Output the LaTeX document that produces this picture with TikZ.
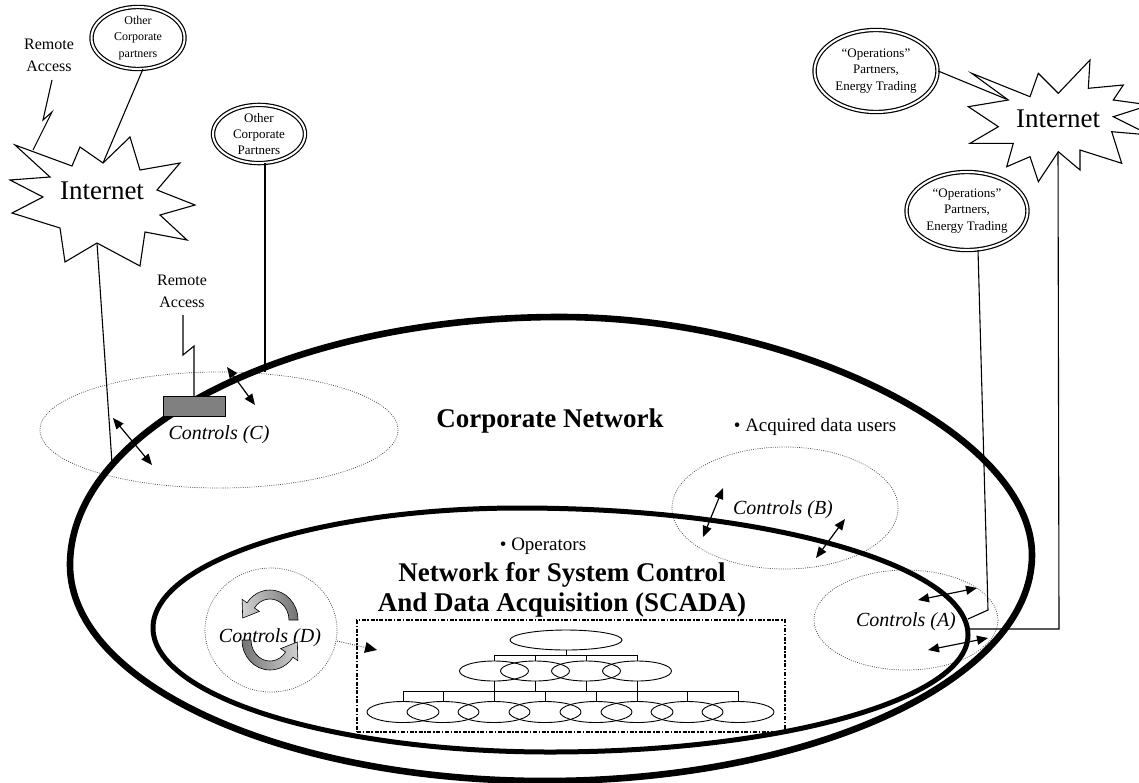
\documentclass[tikz,border=0pt]{standalone}
\usepackage{fontspec}
\setmainfont{Liberation Serif}
\usetikzlibrary{arrows.meta,calc,shapes.geometric}
\newcommand\myfs[2]{\fontsize{#1}{#2}\selectfont}
\begin{document}
\begin{tikzpicture}[x=1pt,y=-1pt,
  every node/.style={inner sep=0pt},
  outerring/.style={line width=6.6pt},
  innerring/.style={line width=5pt},
  thinline/.style={line width=1.1pt},
  ctrlzone/.style={draw=black!70, line width=0.7pt, dash pattern=on 0.9pt off 1.3pt},
  partner/.style={draw, ellipse, fill=white, line width=1.2pt, double=white, double distance=2pt, align=center},
  darrow/.style={line width=1.2pt, {Triangle[length=11pt,width=9pt]}-{Triangle[length=11pt,width=9pt]}},
  burst/.style={draw, fill=white, line width=1.1pt, line join=miter},
  ctrltext/.style={font=\myfs{20}{24}\itshape},
  titletext/.style={font=\myfs{27}{30}\bfseries, align=center},
  bullettext/.style={font=\myfs{19}{22}},
  treeell/.style={draw, line width=0.9pt},
  treeline/.style={line width=0.9pt},
  cyclearrow/.style={draw=black, line width=0.6pt, line join=miter}
]
\useasboundingbox (0,0) rectangle (1139,782);

% control zones (dotted)
\draw[ctrlzone] (219,430) ellipse [x radius=179, y radius=58];
\draw[ctrlzone] (785,508) ellipse [x radius=113, y radius=61];
\draw[ctrlzone] (906,620) ellipse [x radius=92, y radius=50];
\draw[ctrlzone] (271,630) ellipse [x radius=66, y radius=62];

% corporate network (outer ring)
\coordinate (oR) at (1032,555);
\coordinate (oT) at (560,317);
\coordinate (oL) at (70,565);
\coordinate (oB) at (545,781);
\draw[outerring] (oR) .. controls (1032,436) and (796,317) .. (oT)
  .. controls (290.5,317) and (70,428.6) .. (oL)
  .. controls (70,683.8) and (283.8,781) .. (oB)
  .. controls (812.9,781) and (1032,679.3) .. (oR) -- cycle;

% SCADA network (inner ring)
\coordinate (iR) at (968,635);
\coordinate (iT) at (520,508);
\coordinate (iL) at (153,628);
\coordinate (iB) at (550,752);
\draw[innerring] (iR) .. controls (968,565.2) and (766.4,508) .. (iT)
  .. controls (318,508) and (153,562) .. (iL)
  .. controls (153,696.2) and (331.6,752) .. (iB)
  .. controls (779.9,752) and (968,699.4) .. (iR) -- cycle;

% named end points
\coordinate (ra1top) at (52,80);
\coordinate (ra1end) at (33,150);
\coordinate (ra2top) at (183,315);
\coordinate (ra2end) at (194,396);
\coordinate (p2foot) at (265,372);
\coordinate (inetL) at (97,243);
\coordinate (inetLfoot) at (112,463);
\coordinate (inetR) at (1058,150);
\coordinate (inetRbend) at (1059,629);
\coordinate (inetRfoot) at (969,629);
\coordinate (p4bend) at (988,610);
\coordinate (p4foot) at (968,619);
\coordinate (p3end) at (1006,99);
\coordinate (p1foot) at (143,69);
\coordinate (p2top) at (265,163);
\coordinate (p4top) at (978,250);

% partner ellipses
\node[partner, minimum width=93, minimum height=60, font=\myfs{12}{16.5}] (p1) at (138,38) {Other\\Corporate\\partners};
\node[partner, minimum width=92, minimum height=58, font=\myfs{13}{16}] (p2) at (259,134) {Other\\Corporate\\Partners};
\node[partner, minimum width=123, minimum height=82, font=\myfs{13}{16.5}] (p3) at (876,71) {“Operations”\\Partners,\\Energy Trading};
\node[partner, minimum width=121, minimum height=78, font=\myfs{13}{16.5}] (p4) at (967,211) {“Operations”\\Partners,\\Energy Trading};

% thin connectors
\draw[thinline] (ra1top) -- (43,120) -- (52,112) -- (ra1end);
\draw[thinline] (p1foot) -- (103,163);
\draw[thinline] (inetL) -- (inetLfoot);
\draw[thinline] (p2top) -- (p2foot);
\draw[thinline] (ra2top) -- (183,355) -- (194,346) -- (ra2end);
\draw[thinline] (p3.east) -- (p3end);
\draw[thinline] (inetR) -- (inetRbend) -- (inetRfoot);
\draw[thinline] (p4top) -- (p4bend) -- (p4foot);

% Internet bursts
\draw[burst] (15,145) -- (72,166) -- (80,147) -- (103,163) -- (130,137) -- (140,170)
 -- (180,163) -- (157,190) -- (195,205) -- (160,215) -- (187,240) -- (145,232)
 -- (140,266) -- (97,243) -- (65,262) -- (60,228) -- (12,213) -- (43,197)
 -- (10,180) -- (50,177) -- cycle;
\node[font=\myfs{27}{30}] (inet1) at (102,191) {Internet};

\draw[burst] (971.7,73.3) -- (1030,96.7) -- (1038.3,73.3) -- (1058.3,93.3) -- (1090,60)
 -- (1088.3,88.3) -- (1123.3,85) -- (1113.3,100) -- (1150,105) -- (1113.3,116.7)
 -- (1150,135) -- (1111.7,131.7) -- (1121.7,163.3) -- (1080,150) -- (1080,170)
 -- (1058.3,151.7) -- (1038.3,181.7) -- (1030,156.7) -- (1006.7,166.7)
 -- (1013.3,143.3) -- (970,143.3) -- (998.3,126.7) -- (968.3,106.7) -- (1008.3,100) -- cycle;
\node[font=\myfs{27}{30}] (inet2) at (1058,119) {Internet};

% remote access labels
\node[font=\myfs{16}{22}, align=center] (ra1) at (49,55) {Remote\\Access};
\node[font=\myfs{16}{22}, align=center] (ra2) at (182,291) {Remote\\Access};

% remote access box
\node[draw, fill=black!50, line width=1pt, minimum width=62, minimum height=20] (rbox) at (194,406) {};

% main texts
\node[titletext] (corp) at (550,421) {Corporate Network};
\node[bullettext] (acq) at (815,427) {• Acquired data users};
\node[bullettext] (oper) at (543,546) {• Operators};
\node[titletext] (scada) at (562,590) {Network for System Control\\And Data Acquisition (SCADA)};

\node[ctrltext] (cC) at (219,435) {Controls (C)};
\node[ctrltext] (cB) at (783,510) {Controls (B)};
\node[ctrltext] (cA) at (906,622) {Controls (A)};
\node[ctrltext] (cD) at (270,638) {Controls (D)};

% double arrows
\coordinate (a1s) at (113,418); \coordinate (a1e) at (152,465);
\coordinate (a2s) at (227,367); \coordinate (a2e) at (255,405);
\coordinate (a3s) at (723,488); \coordinate (a3e) at (703,537);
\coordinate (a4s) at (845,519); \coordinate (a4e) at (816,558);
\coordinate (a5s) at (918,600); \coordinate (a5e) at (977,588);
\coordinate (a6s) at (928,650); \coordinate (a6e) at (988,638);
\draw[darrow] (a1s) -- (a1e);
\draw[darrow] (a2s) -- (a2e);
\draw[darrow] (a3s) -- (a3e);
\draw[darrow] (a4s) -- (a4e);
\draw[darrow] (a5s) -- (a5e);
\draw[darrow] (a6s) -- (a6e);

% cycle arrows of Controls (D)
\path[cyclearrow, left color=black!18, right color=black!55]
 (298,620) arc[start angle=0, end angle=-145, x radius=28, y radius=30]
 -- (242.1,599.3) -- (242.7,618) -- (259.4,611.4) -- (254.44,607.95)
 arc[start angle=-145, end angle=0, x radius=19, y radius=21] -- cycle;
\path[cyclearrow, left color=black!55, right color=black!18]
 (242,640) arc[start angle=180, end angle=35, x radius=28, y radius=30]
 -- (297.9,660.7) -- (297.3,642) -- (280.6,648.6) -- (285.56,652.05)
 arc[start angle=35, end angle=180, x radius=19, y radius=21] -- cycle;

% SCADA system box
\node[draw, line width=1.4pt, dash pattern=on 4pt off 1.6pt on 1.6pt off 1.6pt,
      minimum width=428, minimum height=112] (sysbox) at (571,676) {};
\coordinate (dstart) at (337,641);
\coordinate (dend) at (377,650);
\draw[ctrlzone, line width=0.9pt] (dstart) -- (365,647.4);
\fill (dend) -- (364.1,652.8) -- (366.5,642.0) -- cycle;

% hierarchy tree
\node[treeell, ellipse, minimum width=112, minimum height=20] (t0) at (566,640) {};
\foreach \x/\n in {494/1,535/2,586/3,637/4}{
  \node[treeell, ellipse, minimum width=69, minimum height=20] (m\n) at (\x,671) {};
}
\foreach \x/\n in {403/1,443/2,494/3,545/4,596/5,637/6,687/7,738/8}{
  \node[treeell, ellipse, minimum width=72, minimum height=21] (b\n) at (\x,712) {};
}
\coordinate (bar1) at (0,655);
\coordinate (bar2) at (0,691);
\draw[treeline] (t0.south) -- (t0.south |- bar1);
\draw[treeline] (494,655) -- (637,655);
\foreach \n in {1,2,3,4}{ \draw[treeline] (m\n.north) -- (m\n.north |- bar1); }
\foreach \n in {1,2,3,4}{ \draw[treeline] (m\n.south) -- (m\n.south |- bar2); }
\draw[treeline] (403,691) -- (738,691);
\foreach \n in {1,...,8}{ \draw[treeline] (b\n.north) -- (b\n.north |- bar2); }
\end{tikzpicture}
\end{document}
